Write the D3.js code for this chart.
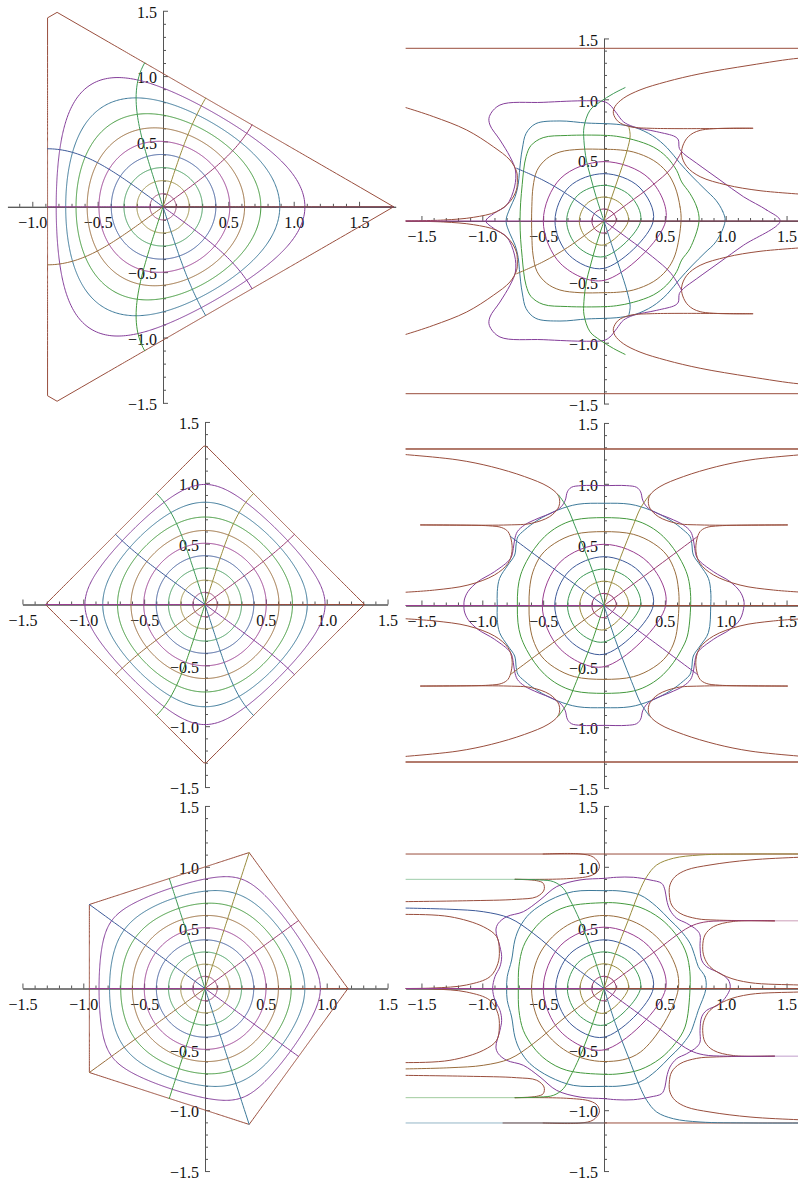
<!DOCTYPE html>
<html>
<head>
<meta charset="utf-8">
<script src="https://cdn.jsdelivr.net/npm/d3@7"></script>
<style>
  body { margin: 0; background: #fff; }
  svg { display: block; }
</style>
</head>
<body>
<svg></svg>
<script>
const width = 798;
const height = 1181;

// grid of the unit disk: contour radii and ray angles (degrees)
const radii = [0, 0.1, 0.2, 0.3, 0.4, 0.5, 0.6, 0.7, 0.8, 0.9, 1.0];
const angles = [0, 36, 72, 108, 144, 180, 216, 252, 288, 324, 360];
const sides = [3, 4, 5];
const palette = ["#3F3D99", "#993D71", "#998B3D", "#3D9956", "#3D5A99", "#993D90",
                 "#996D3D", "#43993D", "#3D7999", "#843D99", "#994E3D"];
const majorTicks = [-1.5, -1.0, -0.5, 0.5, 1.0, 1.5];

// ---- right column (upper half, theta 0..180) ----
const trRings = [
  [[0.1,0],[0.071,0.07],[0,0.099],[-0.071,0.07],[-0.1,0]],
  [[0.2,0],[0.141,0.14],[0,0.197],[-0.143,0.141],[-0.203,0]],
  [[0.301,0],[0.213,0.21],[0,0.293],[-0.216,0.211],[-0.307,0]],
  [[0.405,0],[0.288,0.28],[0,0.389],[-0.285,0.282],[-0.403,0]],
  [[0.507,0],[0.37,0.35],[0,0.488],[-0.355,0.352],[-0.499,0]],
  [[0.633,0],[0.625,0.115],[0.584,0.279],[0.515,0.403],[0.405,0.499],[0.241,0.567],[0.104,0.586],[0,0.589],
   [-0.197,0.589],[-0.362,0.567],[-0.471,0.512],[-0.55,0.416],[-0.583,0.28],[-0.593,0.12],[-0.595,0]],
  [[0.781,0],[0.762,0.115],[0.707,0.225],[0.638,0.321],[0.597,0.416],[0.515,0.526],[0.405,0.608],[0.241,0.668],
   [0.104,0.696],[0,0.704],[-0.3,0.703],[-0.5,0.685],[-0.6,0.62],[-0.64,0.53],[-0.66,0.42],[-0.672,0.3],
   [-0.685,0.15],[-0.69,0]],
  [[0.995,0],[0.975,0.08],[0.92,0.17],[0.83,0.26],[0.72,0.37],[0.62,0.48],[0.52,0.6],[0.4,0.7],[0.25,0.77],
   [0.1,0.795],[0,0.8],[-0.142,0.805],[-0.362,0.822],[-0.56,0.8],[-0.64,0.72],[-0.67,0.6],[-0.685,0.5],
   [-0.695,0.4],[-0.705,0.3],[-0.73,0.2],[-0.775,0.1],[-0.805,0]],
  [[1.447,0],[1.337,0.09],[1.145,0.2],[0.953,0.337],[0.762,0.474],[0.652,0.556],[0.619,0.597],[0.611,0.666],
   [0.584,0.693],[0.433,0.734],[0.241,0.775],[0.159,0.816],[0.104,0.885],[0.049,0.953],[0,0.981],
   [-0.142,0.988],[-0.5,0.975],[-0.855,0.953],[-0.942,0.858],[-0.937,0.789],[-0.855,0.666],[-0.773,0.529],
   [-0.728,0.419],[-0.735,0.28],[-0.8,0.13],[-0.9,0.065],[-0.97,0]]
];
const trEdge = [
  [[-1.7,1.419],[1.7,1.419]],
  [[1.7,1.34],[1.595,1.337],[1.2,1.28],[0.79,1.21],[0.515,1.145],[0.296,1.077],[0.159,1.008],[0.09,0.94],
   [0.077,0.885],[0.118,0.816],[0.214,0.775],[0.378,0.762],[1.222,0.762]],
  [[1.222,0.762],[0.79,0.745],[0.693,0.693],[0.647,0.616],[0.638,0.542],[0.68,0.447],[0.79,0.364],
   [1.008,0.296],[1.282,0.249],[1.7,0.215]],
  [[-1.7,0.952],[-1.636,0.934],[-1.403,0.858],[-1.129,0.748],[-0.91,0.611],[-0.773,0.501],[-0.718,0.405],
   [-0.712,0.337],[-0.72,0.255],[-0.773,0.159],[-0.882,0.077],[-1.074,0.03],[-1.32,0.008],[-1.7,0]]
];
const trRays = [
  {deg: 0, pts: [[0,0],[1.7,0]]},
  {deg: 36, pts: [[0,0],[0.2,0.146],[0.4,0.295],[0.55,0.43],[0.638,0.57]]},
  {deg: 72, pts: [[0,0],[0.065,0.2],[0.13,0.39],[0.19,0.58],[0.215,0.7],[0.205,0.77]]},
  {deg: 108, pts: [[0,0],[-0.065,0.2],[-0.115,0.38],[-0.145,0.5],[-0.165,0.663],[-0.164,0.773],[-0.115,0.91],
                   [-0.033,0.978],[0.077,1.047],[0.173,1.096]]},
  {deg: 144, pts: [[0,0],[-0.3,0.218],[-0.5,0.335],[-0.718,0.433]]},
  {deg: 180, pts: [[0,0],[-1.7,0]]}
];

// middle right: first quadrant only (theta 0..90)
const mrRings = [
  [[0.1,0],[0.071,0.071],[0,0.1]],
  [[0.2,0],[0.141,0.141],[0,0.2]],
  [[0.3,0],[0.212,0.212],[0,0.3]],
  [[0.405,0],[0.285,0.285],[0,0.401]],
  [[0.507,0],[0.36,0.357],[0,0.503]],
  [[0.616,0],[0.611,0.141],[0.584,0.277],[0.515,0.415],[0.405,0.511],[0.241,0.585],[0,0.607]],
  [[0.712,0],[0.707,0.141],[0.685,0.251],[0.638,0.36],[0.57,0.47],[0.488,0.566],[0.378,0.648],[0.241,0.703],[0,0.722]],
  [[0.877,0],[0.877,0.114],[0.858,0.223],[0.789,0.333],[0.734,0.415],[0.721,0.511],[0.707,0.566],[0.652,0.621],
   [0.542,0.703],[0.378,0.785],[0.214,0.832],[0,0.84]],
  [[1.151,0],[1.148,0.045],[1.118,0.114],[1.036,0.196],[0.899,0.278],[0.767,0.388],[0.745,0.47],[0.735,0.538],
   [0.712,0.607],[0.652,0.662],[0.542,0.716],[0.419,0.766],[0.351,0.812],[0.318,0.866],[0.301,0.934],
   [0.268,0.971],[0.186,0.985],[0,0.985]]
];
const mrEdge = [
  [[-1.7,1.286],[1.7,1.286]],
  [[1.7,1.245],[1.595,1.237],[1.2,1.196],[0.926,1.141],[0.652,1.059],[0.46,0.977],[0.378,0.908],[0.364,0.853],
   [0.378,0.799],[0.447,0.73],[0.597,0.675],[0.789,0.662],[1.507,0.662]],
  [[1.507,0.662],[0.95,0.655],[0.84,0.64],[0.789,0.607],[0.762,0.538],[0.756,0.442],[0.789,0.346],
   [0.899,0.251],[1.118,0.168],[1.392,0.127],[1.7,0.105]]
];
const mrRays = [
  {deg: 0, pts: [[0,0],[1.7,0]]},
  {deg: 36, pts: [[0,0],[0.4,0.293],[0.77,0.568]]},
  {deg: 72, pts: [[0,0],[0.1,0.3],[0.241,0.66],[0.3,0.8],[0.373,0.908]]}
];

// bottom right: upper half
const brRings = [
  [[0.099,0],[0.071,0.071],[0,0.101],[-0.071,0.071],[-0.101,0]],
  [[0.2,0],[0.142,0.143],[0,0.203],[-0.14,0.142],[-0.197,0]],
  [[0.3,0],[0.213,0.213],[0,0.301],[-0.213,0.213],[-0.301,0]],
  [[0.405,0],[0.285,0.284],[0,0.4],[-0.282,0.283],[-0.397,0]],
  [[0.507,0],[0.358,0.357],[0,0.504],[-0.355,0.356],[-0.499,0]],
  [[0.611,0],[0.53,0.305],[0.3,0.522],[0,0.6],[-0.3,0.52],[-0.52,0.3],[-0.595,0]],
  [[0.707,0],[0.701,0.179],[0.666,0.316],[0.584,0.453],[0.46,0.577],[0.296,0.667],[0.132,0.7],[0,0.705],
   [-0.307,0.672],[-0.471,0.59],[-0.581,0.481],[-0.663,0.344],[-0.699,0.179],[-0.704,0]],
  [[0.838,0],[0.83,0.097],[0.775,0.179],[0.748,0.262],[0.707,0.371],[0.625,0.481],[0.542,0.563],[0.433,0.672],
   [0.296,0.768],[0.132,0.801],[0,0.804],[-0.252,0.796],[-0.444,0.727],[-0.608,0.618],[-0.69,0.508],
   [-0.732,0.399],[-0.759,0.234],[-0.795,0.097],[-0.8,0]],
  [[1.036,0],[1.022,0.07],[0.953,0.125],[0.844,0.179],[0.803,0.233],[0.789,0.344],[0.789,0.44],[0.762,0.481],
   [0.679,0.536],[0.597,0.577],[0.542,0.645],[0.515,0.727],[0.501,0.809],[0.474,0.864],[0.378,0.892],
   [0.241,0.914],[0.104,0.914],[0,0.905],[-0.197,0.892],[-0.389,0.837],[-0.526,0.727],[-0.663,0.631],
   [-0.8,0.59],[-0.868,0.536],[-0.888,0.481],[-0.855,0.344],[-0.841,0.262],[-0.855,0.179],[-0.896,0.097],[-0.915,0]]
];
const brEdge = [
  [[-0.5,1.105],[-0.197,1.106],[-0.088,1.08],[-0.038,1.015],[-0.055,0.96],[-0.115,0.925],[-0.307,0.902],[-0.73,0.897]],
  [[-0.73,0.897],[-0.553,0.886],[-0.499,0.864],[-0.493,0.809],[-0.553,0.754],[-0.718,0.733],[-1.129,0.721],[-1.7,0.713]],
  [[-1.7,0.607],[-1.636,0.609],[-1.266,0.59],[-0.992,0.508],[-0.882,0.426],[-0.86,0.316],[-0.872,0.205],
   [-0.937,0.097],[-1.129,0.029],[-1.403,0.004],[-1.7,0]],
  [[1.7,1.081],[1.595,1.078],[1.2,1.056],[0.871,1.015],[0.679,0.974],[0.584,0.919],[0.542,0.851],[0.537,0.768],
   [0.556,0.686],[0.625,0.618],[0.762,0.574],[0.926,0.562],[1.4,0.556]],
  [[1.4,0.556],[1.063,0.551],[0.899,0.508],[0.83,0.44],[0.811,0.344],[0.822,0.262],[0.871,0.179],[1.008,0.097],
   [1.2,0.048],[1.595,0.029],[1.7,0.025]]
];
const brEdgeSingle = [
  [[-1.7,1.105],[1.7,1.105]],
  [[-0.83,-1.105],[1.7,-1.105]]
];
const brRays = [
  {deg: 0, pts: [[0,0],[1.7,0]]},
  {deg: 36, pts: [[0,0],[0.4,0.29],[0.7,0.505],[0.82,0.545],[1.0,0.556],[1.4,0.556]]},
  {deg: 72, pts: [[0,0],[0.094,0.289],[0.2,0.563],[0.29,0.796],[0.351,0.919],[0.433,1.015],[0.57,1.07],
                  [0.789,1.097],[1.2,1.105],[1.7,1.105]]},
  {deg: 108, pts: [[0,0],[-0.094,0.289],[-0.2,0.563],[-0.279,0.727],[-0.334,0.823],[-0.416,0.878],
                   [-0.526,0.892],[-0.73,0.897]]},
  {deg: 144, pts: [[0,0],[-0.307,0.226],[-0.581,0.453],[-0.773,0.577],[-0.992,0.631],[-1.266,0.651],[-1.7,0.662]]},
  {deg: 180, pts: [[0,0],[-1.7,0]]}
];
// faint run-outs of rays towards infinity
const brRunouts = [
  {deg: 36, pts: [[1.4,0.556],[1.7,0.556]]},
  {deg: 108, pts: [[-0.73,0.897],[-1.7,0.897]]}
];
const brRunoutsSingle = [
  {deg: 288, pts: [[0,-1.105],[-1.7,-1.105]]}
];

// ---- layout ----
const leftFrames = [
  {ox: 163, oy: 206.8, k: 130.7, xr: [-1.19, 1.78]},
  {ox: 205, oy: 604.5, k: 121.7, xr: [-1.5, 1.5]},
  {ox: 205, oy: 988.5, k: 121.7, xr: [-1.5, 1.5]}
];
const rightFrames = [
  {ox: 604, oy: 221, k: 121.7, xr: [-1.63, 1.6]},
  {ox: 604, oy: 605.5, k: 121.7, xr: [-1.63, 1.6]},
  {ox: 604, oy: 988.5, k: 121.7, xr: [-1.63, 1.6]}
];
const rightSpecs = [
  {sym: "conj", rings: trRings, edge: trEdge, edgeSingle: [], rays: trRays, runouts: [], runoutsSingle: []},
  {sym: "quad", rings: mrRings, edge: mrEdge, edgeSingle: [], rays: mrRays, runouts: [], runoutsSingle: []},
  {sym: "conj", rings: brRings, edge: brEdge, edgeSingle: brEdgeSingle, rays: brRays,
   runouts: brRunouts, runoutsSingle: brRunoutsSingle}
];

const svg = d3.select("svg")
    .attr("width", width)
    .attr("height", height)
    .attr("viewBox", `0 0 ${width} ${height}`);

// Schwarz-Christoffel map of the disk onto the regular n-gon:
// f(z) = int_0^z (1 - w^n)^(-2/n) dw, integrated along the ray with t = r(1-(1-s)^3)
function scPoint(n, r, th) {
  const N = r > 0.95 ? 240 : 80;
  const e = -2 / n;
  const cn = Math.cos(n * th), sn = Math.sin(n * th);
  let sr = 0, si = 0;
  for (let j = 0; j <= N; j++) {
    const u = 1 - j / N;
    const t = r * (1 - u * u * u);
    const dt = 3 * r * u * u;
    if (dt === 0) continue;
    const tn = Math.pow(t, n);
    const wr = 1 - tn * cn, wi = -tn * sn;
    const m2 = wr * wr + wi * wi;
    if (m2 === 0) continue;
    const mod = Math.exp(e * 0.5 * Math.log(m2));
    const arg = e * Math.atan2(wi, wr);
    const c = (j === 0 || j === N) ? 1 : (j % 2 ? 4 : 2);
    sr += c * mod * Math.cos(arg) * dt;
    si += c * mod * Math.sin(arg) * dt;
  }
  sr /= 3 * N;
  si /= 3 * N;
  const ct = Math.cos(th), st = Math.sin(th);
  return [sr * ct - si * st, sr * st + si * ct];
}

function ringPoints(n, r) {
  const M = 720;
  const pts = [];
  for (let j = 0; j <= M; j++) {
    const th = 2 * Math.PI * j / M;
    const kv = j * n / M;
    if (r >= 1 && j > 0 && j < M && Math.abs(kv - Math.round(kv)) < 1e-9) {
      // plot sampling steps just past the corner
      pts.push(scPoint(n, r, th - 2e-4));
      pts.push(scPoint(n, r, th + 2e-4));
    } else {
      pts.push(scPoint(n, r, th));
    }
  }
  return pts;
}

function rayPoints(n, deg) {
  const th = deg * Math.PI / 180;
  return d3.range(0, 51).map(i => scPoint(n, i / 50, th));
}

function makeFrame(id, f) {
  const x = d3.scaleLinear().domain(f.xr).range([f.ox + f.xr[0] * f.k, f.ox + f.xr[1] * f.k]);
  const y = d3.scaleLinear().domain([-1.5, 1.5]).range([f.oy + 1.5 * f.k, f.oy - 1.5 * f.k]);
  const g = svg.append("g");
  svg.append("clipPath").attr("id", id)
    .append("rect")
    .attr("x", x(f.xr[0])).attr("y", y(1.5))
    .attr("width", x(f.xr[1]) - x(f.xr[0])).attr("height", y(-1.5) - y(1.5));
  drawAxes(g, x, y, f.xr);
  const plot = g.append("g").attr("clip-path", `url(#${id})`)
    .attr("fill", "none").attr("stroke-width", 1.0)
    .attr("stroke-linejoin", "round").attr("stroke-linecap", "round");
  return {x, y, plot};
}

function drawAxes(g, x, y, xr) {
  const tenths = d3.range(-15, 16).map(v => v / 10);
  const majX = majorTicks.filter(v => v >= xr[0] && v <= xr[1]);
  const minX = tenths.filter(v => v !== 0 && !majorTicks.includes(v) && v >= xr[0] && v <= xr[1]);
  const minY = tenths.filter(v => v !== 0 && !majorTicks.includes(v));
  const fmt = d3.format(".1f");

  const xa = g.append("g").attr("transform", `translate(0,${y(0)})`);
  xa.append("g").call(d3.axisBottom(x).tickValues(minX).tickSize(-3).tickSizeOuter(0).tickFormat(""));
  xa.append("g").call(d3.axisBottom(x).tickValues(majX).tickSize(-5).tickSizeOuter(0)
    .tickPadding(10).tickFormat(fmt));

  const ya = g.append("g").attr("transform", `translate(${x(0)},0)`);
  ya.append("g").call(d3.axisLeft(y).tickValues(minY).tickSize(-3).tickSizeOuter(0).tickFormat(""));
  ya.append("g").call(d3.axisLeft(y).tickValues(majorTicks).tickSize(-5).tickSizeOuter(0)
    .tickPadding(6).tickFormat(fmt));
  ya.selectAll("text").attr("dy", "0.42em");

  g.selectAll(".domain").attr("stroke", "#555");
  g.selectAll(".tick line").attr("stroke", "#555");
  g.selectAll("text")
    .attr("fill", "#111")
    .attr("font-family", "'Liberation Serif', 'Times New Roman', serif")
    .attr("font-size", 16);
}

// ---- left column: exact polygon maps ----
sides.forEach((n, i) => {
  const {x, y, plot} = makeFrame("clipL" + i, leftFrames[i]);
  const line = d3.line().x(d => x(d[0])).y(d => y(d[1]));
  radii.forEach((r, k) => {
    if (r === 0) return;
    plot.append("path").attr("d", line(ringPoints(n, r))).attr("stroke", palette[k]);
  });
  angles.forEach((a, k) => {
    plot.append("path").attr("d", line(rayPoints(n, a))).attr("stroke", palette[k]);
  });
});

// ---- right column: traced curves, completed by symmetry ----
const flipY = p => p.map(([a, b]) => [a, -b]);
const flipX = p => p.map(([a, b]) => [-a, b]);
const flipXY = p => p.map(([a, b]) => [-a, -b]);

function fullRing(pts, sym) {
  let upper = pts;
  if (sym === "quad") upper = pts.concat(flipX(pts.slice(0, -1)).reverse());
  return upper.concat(flipY(upper.slice(1, -1)).reverse());
}

function mirroredCurves(pts, sym) {
  if (sym === "quad") return [pts, flipX(pts), flipXY(pts), flipY(pts)];
  return [pts, flipY(pts)];
}

function mirroredRays(ray, sym) {
  const d = ray.deg;
  const out = [{deg: d, pts: ray.pts}];
  if (sym === "quad") {
    out.push({deg: 180 - d, pts: flipX(ray.pts)});
    out.push({deg: 180 + d, pts: flipXY(ray.pts)});
    out.push({deg: 360 - d, pts: flipY(ray.pts)});
  } else if (d !== 180) {
    out.push({deg: 360 - d, pts: flipY(ray.pts)});
  }
  return out;
}

rightSpecs.forEach((spec, i) => {
  const {x, y, plot} = makeFrame("clipR" + i, rightFrames[i]);
  const smooth = d3.line().x(d => x(d[0])).y(d => y(d[1])).curve(d3.curveCatmullRom.alpha(0.5));
  const closed = d3.line().x(d => x(d[0])).y(d => y(d[1])).curve(d3.curveCatmullRomClosed.alpha(0.5));

  spec.rings.forEach((pts, k) => {
    const full = fullRing(pts, spec.sym);
    plot.append("path").attr("d", closed(full.slice(0, -1))).attr("stroke", palette[k + 1]);
  });

  const edgeColor = palette[radii.indexOf(1.0)];
  spec.edge.forEach(pts => {
    mirroredCurves(pts, spec.sym).forEach(c =>
      plot.append("path").attr("d", smooth(c)).attr("stroke", edgeColor));
  });
  spec.edgeSingle.forEach(pts =>
    plot.append("path").attr("d", smooth(pts)).attr("stroke", edgeColor));

  spec.rays.forEach(ray => {
    mirroredRays(ray, spec.sym).forEach(r =>
      plot.append("path").attr("d", smooth(r.pts)).attr("stroke", palette[angles.indexOf(r.deg)]));
  });

  spec.runouts.forEach(ray => {
    mirroredRays(ray, spec.sym).forEach(r =>
      plot.append("path").attr("d", smooth(r.pts))
        .attr("stroke", palette[angles.indexOf(r.deg)]).attr("stroke-opacity", 0.5));
  });
  spec.runoutsSingle.forEach(r =>
    plot.append("path").attr("d", smooth(r.pts))
      .attr("stroke", palette[angles.indexOf(r.deg)]).attr("stroke-opacity", 0.55));
});
</script>
</body>
</html>
